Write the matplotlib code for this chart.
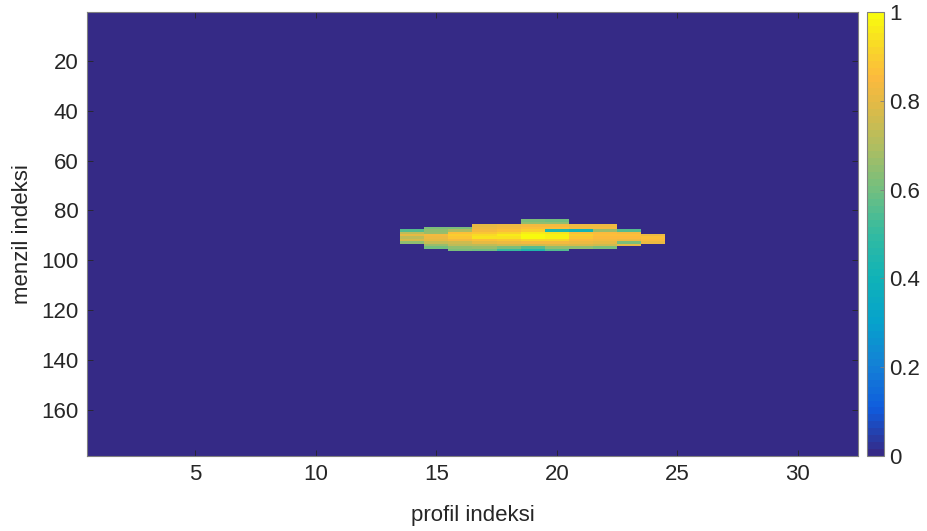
import numpy as np
import matplotlib
matplotlib.use("Agg")
import matplotlib.pyplot as plt
from matplotlib.colors import LinearSegmentedColormap

# ---- data ----
n_rows = 178          # range index (menzil indeksi)
n_cols = 32           # profile index (profil indeksi)
blob_row_start = 84   # first row of the target block
blob_col_start = 14   # first column of the target block
# rows 84..96 (top to bottom), columns 14..24 (left to right); 0 = background
blob = [
    # 14    15    16    17    18    19    20    21    22    23    24
    [0.00, 0.00, 0.00, 0.00, 0.00, 0.62, 0.60, 0.00, 0.00, 0.00, 0.00],  # 84
    [0.00, 0.00, 0.00, 0.00, 0.00, 0.65, 0.65, 0.00, 0.00, 0.00, 0.00],  # 85
    [0.00, 0.00, 0.00, 0.80, 0.82, 0.84, 0.84, 0.82, 0.82, 0.00, 0.00],  # 86
    [0.00, 0.62, 0.62, 0.82, 0.84, 0.86, 0.86, 0.84, 0.84, 0.00, 0.00],  # 87
    [0.55, 0.65, 0.70, 0.84, 0.86, 0.90, 0.45, 0.42, 0.66, 0.55, 0.00],  # 88
    [0.72, 0.66, 0.86, 0.88, 0.92, 0.96, 0.94, 0.86, 0.85, 0.84, 0.00],  # 89
    [0.80, 0.84, 0.90, 0.93, 0.96, 0.99, 0.98, 0.90, 0.86, 0.86, 0.82],  # 90
    [0.72, 0.82, 0.88, 0.94, 0.95, 1.00, 0.97, 0.88, 0.85, 0.85, 0.86],  # 91
    [0.78, 0.80, 0.84, 0.86, 0.88, 0.92, 0.92, 0.85, 0.83, 0.82, 0.85],  # 92
    [0.65, 0.74, 0.76, 0.80, 0.82, 0.84, 0.84, 0.82, 0.80, 0.62, 0.82],  # 93
    [0.00, 0.66, 0.72, 0.72, 0.75, 0.76, 0.78, 0.78, 0.76, 0.80, 0.00],  # 94
    [0.00, 0.60, 0.65, 0.66, 0.62, 0.55, 0.65, 0.65, 0.62, 0.00, 0.00],  # 95
    [0.00, 0.00, 0.62, 0.60, 0.50, 0.45, 0.55, 0.00, 0.00, 0.00, 0.00],  # 96
]
x_ticks = [5, 10, 15, 20, 25, 30]
y_ticks = [20, 40, 60, 80, 100, 120, 140, 160]
cbar_ticks = [0, 0.2, 0.4, 0.6, 0.8, 1]
cbar_labels = ["0", "0.2", "0.4", "0.6", "0.8", "1"]
x_label = "profil indeksi"
y_label = "menzil indeksi"

# ---- build image ----
Z = np.zeros((n_rows, n_cols))
B = np.array(blob)
r0 = blob_row_start - 1
c0 = blob_col_start - 1
Z[r0:r0 + B.shape[0], c0:c0 + B.shape[1]] = B

# parula-like colormap
parula_pts = [
    (0.00, (0.2081, 0.1663, 0.5292)),
    (0.10, (0.0592, 0.3599, 0.8684)),
    (0.20, (0.0780, 0.5040, 0.8384)),
    (0.30, (0.0232, 0.6373, 0.7990)),
    (0.40, (0.0600, 0.7000, 0.7200)),
    (0.50, (0.1986, 0.7314, 0.6310)),
    (0.60, (0.4420, 0.7481, 0.5033)),
    (0.70, (0.6843, 0.7435, 0.3785)),
    (0.80, (0.8900, 0.7300, 0.2700)),
    (0.86, (0.9900, 0.7300, 0.2400)),
    (0.92, (0.9750, 0.8300, 0.1700)),
    (1.00, (0.9763, 0.9831, 0.0538)),
]
parula = LinearSegmentedColormap.from_list("parula", parula_pts, N=64)

plt.rcParams['font.family'] = ['Liberation Sans', 'DejaVu Sans']
fig = plt.figure(figsize=(9.27, 5.31), dpi=100)
ax = fig.add_axes([0.0939, 0.1412, 0.8317, 0.8358])
im = ax.imshow(Z, cmap=parula, vmin=0, vmax=1, aspect='auto',
               interpolation='nearest',
               extent=(0.5, n_cols + 0.5, n_rows + 0.5, 0.5))

axis_col = '#262626'
ax.set_xticks(x_ticks)
ax.set_yticks(y_ticks)
ax.tick_params(direction='in', length=4, width=0.6, color=axis_col,
               labelsize=16, labelcolor=axis_col, top=True, right=True,
               pad=6)
for s in ax.spines.values():
    s.set_color('#808080')
    s.set_linewidth(0.8)
ax.set_xlabel(x_label, fontsize=16, color=axis_col, labelpad=14)
ax.set_ylabel(y_label, fontsize=16, color=axis_col, labelpad=6)

cax = fig.add_axes([0.9353, 0.1412, 0.0178, 0.8358])
cb = fig.colorbar(im, cax=cax, ticks=cbar_ticks)
cb.ax.set_yticklabels(cbar_labels)
cb.ax.tick_params(direction='in', length=3, width=0.6, color='#808080',
                  labelsize=16, labelcolor=axis_col, pad=4)
cb.outline.set_edgecolor('#808080')
cb.outline.set_linewidth(0.8)

fig.savefig("out.png", dpi=100)
